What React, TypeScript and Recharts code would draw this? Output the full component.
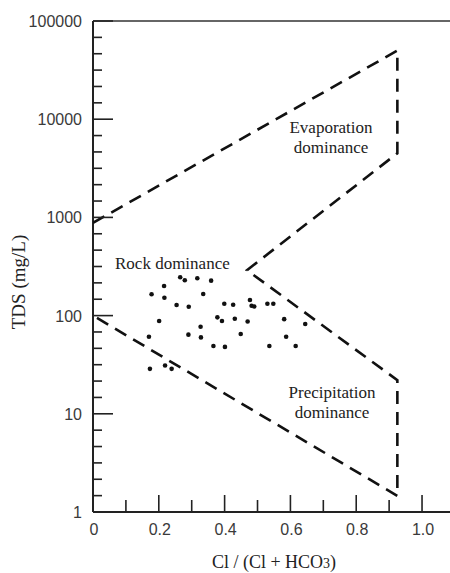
import React from 'react';
import { ComposedChart, Scatter, XAxis, YAxis, ReferenceLine } from 'recharts';

// sample points: Cl/(Cl+HCO3) ratio and TDS (mg/L)
const ratio = [
  0.173, 0.219, 0.239, 0.17, 0.201, 0.178, 0.216, 0.217, 0.254, 0.265,
  0.279, 0.291, 0.29, 0.317, 0.327, 0.328, 0.335, 0.359, 0.366, 0.378,
  0.392, 0.399, 0.401, 0.426, 0.431, 0.449, 0.47, 0.477, 0.482, 0.49,
  0.53, 0.548, 0.581, 0.587, 0.536, 0.616, 0.645,
];
const tds = [
  28.7, 31, 28.7, 61, 88, 165, 200, 152, 128, 246,
  229, 123, 64, 240, 77, 60, 166, 227, 49, 96,
  88, 132, 48, 129, 93, 65, 87, 144, 126, 124,
  132, 132, 92, 61, 49, 49, 82,
];

// Gibbs boundary (dashed outline)
const boundaryRatio = [0, 0.925, 0.925, 0.468, 0.925, 0.925, 0];
const boundaryTds = [880, 50000, 4500, 290, 22, 1.46, 100];

const xTicks = [0, 0.1, 0.2, 0.3, 0.4, 0.5, 0.6, 0.7, 0.8, 0.9, 1.0];
const xLabels = ['0', '', '0.2', '', '0.4', '', '0.6', '', '0.8', '', '1.0'];
const yDecades = [1, 10, 100, 1000, 10000, 100000];
const yLabels = ['1', '10', '100', '1000', '10000', '100000'];

// five evenly spaced minor ticks inside each decade
const yTicks: number[] = [];
yDecades.forEach((d, k) => {
  yTicks.push(d);
  if (k < yDecades.length - 1) {
    for (let j = 1; j < 6; j++) yTicks.push(Math.pow(10, k + j / 6));
  }
});

const samples = ratio.map((x, i) => ({ x, y: tds[i] }));
const boundary = boundaryRatio.map((x, i) => ({ x, y: boundaryTds[i] }));

const tickFont = { fontFamily: '"Liberation Sans", Arial, sans-serif', fontSize: 16, fill: '#3a3a3a' };
const serif = '"Liberation Serif", "Times New Roman", serif';

function YTick(props: any) {
  const { x, y, payload } = props;
  const i = yDecades.indexOf(payload.value);
  const major = i >= 0;
  return (
    <g>
      <line x1={x} y1={y} x2={x + (major ? 20 : 9)} y2={y} stroke="#222" strokeWidth={1.6} />
      {major && (
        <text x={x - 11} y={y} dy={6} textAnchor="end" {...tickFont}>
          {yLabels[i]}
        </text>
      )}
    </g>
  );
}

function XTick(props: any) {
  const { x, y, payload } = props;
  const i = xTicks.findIndex((t) => Math.abs(t - payload.value) < 1e-6);
  const major = xLabels[i] !== '';
  return (
    <g>
      {i > 0 && <line x1={x} y1={y} x2={x} y2={y - (major ? 17 : 12)} stroke="#222" strokeWidth={1.6} />}
      <text x={x + 1} y={y + 23} textAnchor="middle" {...tickFont}>
        {xLabels[i]}
      </text>
    </g>
  );
}

export default function App() {
  return (
    <div style={{ position: 'absolute', left: 0, top: 0, background: '#fff' }}>
      <ComposedChart width={450} height={573} margin={{ top: 21, right: 0, left: 0, bottom: 0 }}>
        <XAxis
          type="number"
          dataKey="x"
          domain={[0, 1.085]}
          ticks={xTicks}
          interval={0}
          height={61}
          tickSize={0}
          tickMargin={0}
          tickLine={false}
          tick={<XTick />}
          axisLine={{ stroke: '#222', strokeWidth: 2 }}
          allowDataOverflow
        />
        <YAxis
          type="number"
          dataKey="y"
          scale="log"
          domain={[1, 100000]}
          ticks={yTicks}
          interval={0}
          width={93}
          tickSize={0}
          tickMargin={0}
          tickLine={false}
          tick={<YTick />}
          axisLine={{ stroke: '#222', strokeWidth: 2 }}
          allowDataOverflow
        />
        <ReferenceLine y={100000} stroke="#333" strokeWidth={1.5} ifOverflow="visible" />
        <Scatter
          data={boundary}
          line={{ stroke: '#111', strokeWidth: 2.6, strokeDasharray: '13 8' }}
          lineType="joint"
          shape={() => <g />}
          isAnimationActive={false}
        />
        <Scatter
          data={samples}
          fill="#111"
          shape={(p: any) => <circle cx={p.cx} cy={p.cy} r={2.3} fill="#111" />}
          isAnimationActive={false}
        />
        <text x={331} y={133} textAnchor="middle" fontFamily={serif} fontSize={17} fill="#222">Evaporation</text>
        <text x={331} y={153} textAnchor="middle" fontFamily={serif} fontSize={17} fill="#222">dominance</text>
        <text x={115} y={269} textAnchor="start" fontFamily={serif} fontSize={17} fill="#222">Rock dominance</text>
        <text x={332} y={398} textAnchor="middle" fontFamily={serif} fontSize={17} fill="#222">Precipitation</text>
        <text x={332} y={418} textAnchor="middle" fontFamily={serif} fontSize={17} fill="#222">dominance</text>
        <text x={25} y={282} textAnchor="middle" fontFamily={serif} fontSize={19} fill="#222" transform="rotate(-90, 25, 282)">
          TDS (mg/L)
        </text>
        <text x={274} y={568} textAnchor="middle" fontFamily={serif} fontSize={18} fill="#222">
          Cl / (Cl + HCO<tspan fontSize={14}>3</tspan>)
        </text>
      </ComposedChart>
    </div>
  );
}
